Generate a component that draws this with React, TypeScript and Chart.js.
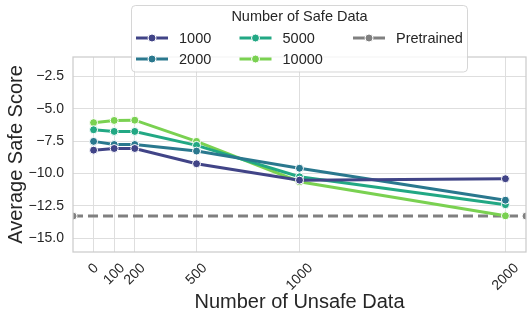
import { useEffect, useRef } from "react";
import { Chart, registerables } from "chart.js";

Chart.register(...registerables);

// ---- Data ----
const unsafeCounts = [0, 100, 200, 500, 1000, 2000];
const seriesLabels = ["1000", "2000", "5000", "10000"];
const safe1000 = [-8.2, -8.07, -8.07, -9.25, -10.52, -10.41];
const safe2000 = [-7.52, -7.76, -7.76, -8.27, -9.6, -12.07];
const safe5000 = [-6.62, -6.75, -6.75, -7.83, -10.26, -12.42];
const safe10000 = [-6.07, -5.9, -5.88, -7.52, -10.64, -13.28];
const pretrainedScore = -13.3;
const pretrainedX = [-100, 2100];
const xTickValues = [0, 100, 200, 500, 1000, 2000];
const xTickLabels = ["0", "100", "200", "500", "1000", "2000"];
const yTickValues = [-15, -12.5, -10, -7.5, -5, -2.5];

const seriesColors = ["#414487", "#2a788e", "#22a884", "#7ad151"];
const pretrainedColor = "#808080";
const textColor = "#262626";
const FONT = "'Liberation Sans', Arial, sans-serif";

const seriesValues = [safe1000, safe2000, safe5000, safe10000];

const customPlugin = {
  id: "customDecor",
  afterDatasetsDraw(chart: any) {
    const { ctx, chartArea } = chart;
    ctx.save();
    ctx.strokeStyle = "#cccccc";
    ctx.lineWidth = 1.25;
    ctx.strokeRect(
      chartArea.left,
      chartArea.top,
      chartArea.right - chartArea.left,
      chartArea.bottom - chartArea.top
    );
    ctx.restore();
  },
  afterDraw(chart: any) {
    const { ctx, chartArea } = chart;
    const xScale = chart.scales.x;
    // x tick labels rotated 45°, centered on the tick
    ctx.save();
    ctx.font = `14px ${FONT}`;
    ctx.fillStyle = textColor;
    ctx.textAlign = "center";
    ctx.textBaseline = "middle";
    const top = chartArea.bottom + 9;
    xTickValues.forEach((v, i) => {
      const label = xTickLabels[i];
      const w = ctx.measureText(label).width;
      const h = 14;
      const px = xScale.getPixelForValue(v);
      const cy = top + ((w + h) * Math.SQRT1_2) / 2;
      ctx.save();
      ctx.translate(px, cy);
      ctx.rotate(-Math.PI / 4);
      ctx.fillText(label, 0, 0);
      ctx.restore();
    });
    ctx.restore();

    // Legend
    ctx.save();
    const bx = 131.5,
      by = 5.5,
      bw = 336,
      bh = 66.5,
      r = 4;
    ctx.beginPath();
    ctx.moveTo(bx + r, by);
    ctx.lineTo(bx + bw - r, by);
    ctx.quadraticCurveTo(bx + bw, by, bx + bw, by + r);
    ctx.lineTo(bx + bw, by + bh - r);
    ctx.quadraticCurveTo(bx + bw, by + bh, bx + bw - r, by + bh);
    ctx.lineTo(bx + r, by + bh);
    ctx.quadraticCurveTo(bx, by + bh, bx, by + bh - r);
    ctx.lineTo(bx, by + r);
    ctx.quadraticCurveTo(bx, by, bx + r, by);
    ctx.closePath();
    ctx.fillStyle = "rgba(255,255,255,0.8)";
    ctx.fill();
    ctx.strokeStyle = "rgba(204,204,204,0.8)";
    ctx.lineWidth = 1;
    ctx.stroke();

    ctx.fillStyle = textColor;
    ctx.font = `14.5px ${FONT}`;
    ctx.textAlign = "center";
    ctx.textBaseline = "middle";
    ctx.fillText("Number of Safe Data", bx + bw / 2, 16.5);

    const items = [
      { label: seriesLabels[0], color: seriesColors[0], x: 136, y: 38 },
      { label: seriesLabels[1], color: seriesColors[1], x: 136, y: 59 },
      { label: seriesLabels[2], color: seriesColors[2], x: 239.5, y: 38 },
      { label: seriesLabels[3], color: seriesColors[3], x: 239.5, y: 59 },
      { label: "Pretrained", color: pretrainedColor, x: 353, y: 38 },
    ];
    items.forEach((it) => {
      ctx.strokeStyle = it.color;
      ctx.lineWidth = 3;
      ctx.beginPath();
      ctx.moveTo(it.x, it.y);
      ctx.lineTo(it.x + 32, it.y);
      ctx.stroke();
      ctx.beginPath();
      ctx.arc(it.x + 16, it.y, 4, 0, Math.PI * 2);
      ctx.fillStyle = it.color;
      ctx.fill();
      ctx.strokeStyle = "#ffffff";
      ctx.lineWidth = 1;
      ctx.stroke();
      ctx.fillStyle = textColor;
      ctx.textAlign = "left";
      ctx.fillText(it.label, it.x + 43, it.y + 0.5);
    });
    ctx.restore();
  },
};

export default function App() {
  const canvasRef = useRef<HTMLCanvasElement | null>(null);

  useEffect(() => {
    if (!canvasRef.current) return;
    const datasets: any[] = seriesValues.map((vals, i) => ({
      label: seriesLabels[i],
      data: unsafeCounts.map((x, j) => ({ x, y: vals[j] })),
      borderColor: seriesColors[i],
      backgroundColor: seriesColors[i],
      pointBackgroundColor: seriesColors[i],
      pointBorderColor: "#ffffff",
      pointBorderWidth: 1,
      pointRadius: 4,
      borderWidth: 3,
      tension: 0,
    }));
    datasets.push({
      label: "Pretrained",
      data: pretrainedX.map((x) => ({ x, y: pretrainedScore })),
      borderColor: pretrainedColor,
      backgroundColor: pretrainedColor,
      pointBackgroundColor: pretrainedColor,
      pointBorderColor: "#ffffff",
      pointBorderWidth: 1,
      pointRadius: 4,
      borderWidth: 3,
      borderDash: [10, 5],
    });

    const chart = new Chart(canvasRef.current, {
      type: "line",
      data: { datasets },
      options: {
        animation: false,
        responsive: false,
        devicePixelRatio: 1,
        layout: { padding: { top: 57, right: 6, left: 0, bottom: 0 } },
        plugins: {
          legend: { display: false },
          tooltip: { enabled: false },
        },
        scales: {
          x: {
            type: "linear",
            min: -100,
            max: 2100,
            afterBuildTicks: (scale: any) => {
              scale.ticks = xTickValues.map((v) => ({ value: v }));
            },
            afterFit: (scale: any) => {
              scale.height = 68;
            },
            ticks: { display: false },
            grid: { color: "#dedede", lineWidth: 1, drawTicks: false },
            border: { display: false },
            title: {
              display: true,
              text: "Number of Unsafe Data",
              color: textColor,
              font: { size: 20, family: FONT },
              padding: { top: 4, bottom: 6 },
            },
          },
          y: {
            type: "linear",
            min: -16.08,
            max: -0.99,
            afterBuildTicks: (scale: any) => {
              scale.ticks = yTickValues.map((v) => ({ value: v }));
            },
            afterFit: (scale: any) => {
              scale.width = 73;
            },
            ticks: {
              color: textColor,
              font: { size: 14, family: FONT },
              padding: 9,
              callback: (v: any) => {
                const n = Number(v);
                const s = Math.abs(n).toFixed(1);
                return n < 0 ? "\u2212" + s : s;
              },
            },
            grid: { color: "#dedede", lineWidth: 1, drawTicks: false },
            border: { display: false },
            title: {
              display: true,
              text: "Average Safe Score",
              color: textColor,
              font: { size: 20, family: FONT },
              padding: { top: 4, bottom: 4 },
            },
          },
        },
      },
      plugins: [customPlugin],
    });
    return () => chart.destroy();
  }, []);

  return (
    <div style={{ position: "fixed", left: 0, top: 0, width: 532, height: 320, background: "#fff" }}>
      <canvas ref={canvasRef} width={532} height={320} />
    </div>
  );
}
